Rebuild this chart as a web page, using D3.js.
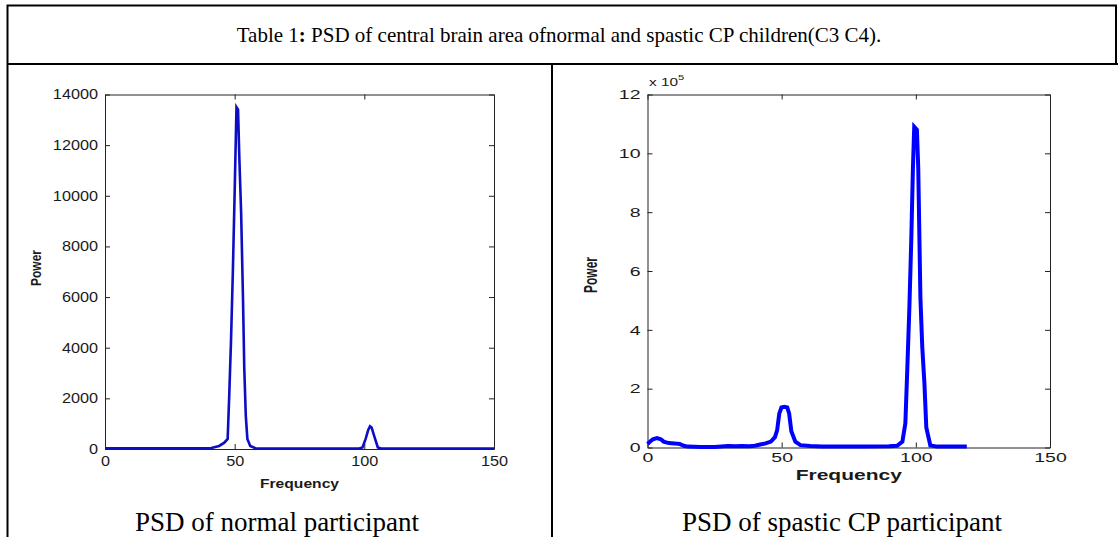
<!DOCTYPE html>
<html lang="en">
<head>
<meta charset="utf-8">
<title>PSD of central brain area</title>
<script src="https://cdn.jsdelivr.net/npm/d3@7"></script>
<style>
  body { margin: 0; background: #fff; }
  .rule { stroke: #000; stroke-width: 2; fill: none; }
  .serif { font-family: "Liberation Serif", "Times New Roman", serif; fill: #000; }
  .mat text { font-family: "Liberation Sans", Arial, sans-serif; fill: #1a1a1a; }
  .mat .domain, .mat .tick line { stroke: #222; stroke-width: 1; }
</style>
</head>
<body>
<script>
var w = 1118, h = 537;

// normal participant (power)
var normalFreq  = [0, 10, 20, 30, 38, 41, 44, 46, 47.3, 47.9, 48.6, 49.3, 49.9, 50.7, 51.3, 51.8, 52.5, 53.2, 53.7, 54.3, 54.9, 56, 58, 70, 98, 99.3, 100.5, 101.5, 102.2, 102.8, 104, 105.2, 106.5, 150];
var normalPower = [30, 25, 25, 25, 30, 40, 120, 250, 400, 2100, 4300, 7000, 9700, 13500, 13400, 11500, 9300, 6000, 3200, 1300, 400, 120, 30, 20, 20, 60, 400, 750, 900, 850, 450, 60, 20, 20];

// spastic CP participant (power, x 10^5)
var spasticFreq  = [0, 1, 2, 3.5, 5, 6, 8, 10, 12, 13.5, 15, 20, 25, 30, 33, 35, 38, 40, 42, 44, 46, 47.5, 48.3, 49.1, 49.9, 51, 52.1, 52.8, 53.6, 55.1, 57, 60.7, 65, 80, 90, 93, 95, 96.1, 96.8, 97.6, 98.3, 98.9, 99.4, 100.4, 100.9, 101.7, 102.4, 103.2, 103.9, 105.4, 108, 119];
var spasticPower = [0.12, 0.2, 0.28, 0.32, 0.28, 0.2, 0.15, 0.14, 0.12, 0.06, 0.03, 0.02, 0.02, 0.05, 0.04, 0.05, 0.04, 0.06, 0.1, 0.14, 0.2, 0.35, 0.58, 1.15, 1.36, 1.38, 1.36, 1.15, 0.55, 0.2, 0.08, 0.05, 0.03, 0.03, 0.04, 0.06, 0.2, 0.82, 2.62, 4.77, 7.05, 9.44, 10.9, 10.8, 9.5, 5.11, 3.41, 2.18, 0.68, 0.07, 0.03, 0.03];

var freqTicks = [0, 50, 100, 150];
var normalTicks = [0, 2000, 4000, 6000, 8000, 10000, 12000, 14000];
var spasticTicks = [0, 2, 4, 6, 8, 10, 12];

var svg = d3.select("body").append("svg")
  .attr("width", w)
  .attr("height", h);

// table frame
svg.append("path").attr("class", "rule")
  .attr("d", "M7.5,537 V5.5 H1116 V64");
svg.append("line").attr("class", "rule")
  .attr("x1", 7.5).attr("x2", 1118).attr("y1", 64).attr("y2", 64);
svg.append("line").attr("class", "rule")
  .attr("x1", 552).attr("x2", 552).attr("y1", 64).attr("y2", 537);

var title = svg.append("text").attr("class", "serif")
  .attr("x", 559).attr("y", 42)
  .attr("text-anchor", "middle")
  .style("font-size", "21px");
title.append("tspan").text("Table 1");
title.append("tspan").style("font-weight", "bold").text(":");
title.append("tspan").text(" PSD of central brain area ofnormal and spastic CP children(C3 C4).");

var drawPanel = function(o) {
  var x = d3.scaleLinear().domain([0, 150]).range([o.left, o.right]);
  var y = d3.scaleLinear().domain([0, o.yTicks[o.yTicks.length - 1]]).range([o.bottom, o.top]);
  var g = svg.append("g").attr("class", "mat");

  var bottom = g.append("g")
    .attr("transform", "translate(0," + o.bottom + ")")
    .call(d3.axisBottom(x).tickValues(freqTicks).tickFormat(d3.format("d"))
      .tickSizeInner(-5).tickSizeOuter(0).tickPadding(o.pad));
  g.append("g")
    .attr("transform", "translate(0," + o.top + ")")
    .call(d3.axisTop(x).tickValues(freqTicks).tickFormat("").tickSizeInner(-5).tickSizeOuter(0));
  var left = g.append("g")
    .attr("transform", "translate(" + o.left + ",0)")
    .call(d3.axisLeft(y).tickValues(o.yTicks).tickFormat(d3.format("d"))
      .tickSizeInner(-5).tickSizeOuter(0).tickPadding(7));
  g.append("g")
    .attr("transform", "translate(" + o.right + ",0)")
    .call(d3.axisRight(y).tickValues(o.yTicks).tickFormat("").tickSizeInner(-5).tickSizeOuter(0));

  // stretched MATLAB lettering
  bottom.selectAll("text").style("font-size", o.font + "px")
    .attr("transform", "scale(" + o.sx + ",1)");
  left.selectAll("text").style("font-size", o.font + "px")
    .attr("x", -7 / o.sx)
    .attr("transform", "scale(" + o.sx + ",1)");

  var line = d3.line()
    .x(function(d) { return x(d[0]); })
    .y(function(d) { return y(d[1]); });

  g.append("path")
    .datum(d3.zip(o.freq, o.power))
    .attr("fill", "none")
    .attr("stroke", o.color)
    .attr("stroke-width", o.width)
    .attr("stroke-linejoin", "miter")
    .attr("d", line);

  g.append("text")
    .attr("text-anchor", "middle")
    .attr("transform", "translate(" + ((o.left + o.right) / 2) + "," + o.freqY + ") scale(" + o.sx + ",1)")
    .style("font-size", o.labelFont + "px")
    .style("font-weight", "bold")
    .text("Frequency");

  g.append("text")
    .attr("text-anchor", "middle")
    .attr("transform", "translate(" + o.powerX + "," + o.powerY + ") scale(" + o.sx + ",1) rotate(-90)")
    .style("font-size", "12px")
    .style("font-weight", "bold")
    .text("Power");

  svg.append("text").attr("class", "serif")
    .attr("x", o.capX).attr("y", 531)
    .attr("text-anchor", "middle")
    .style("font-size", "27px")
    .text(o.caption);

  return g;
};

drawPanel({
  left: 105, right: 494, top: 94.5, bottom: 449,
  yTicks: normalTicks, freq: normalFreq, power: normalPower,
  sx: 1.16, font: 14, labelFont: 13.5, pad: 7,
  color: "#0d0dc4", width: 2.6,
  freqY: 488, powerX: 41, powerY: 268,
  capX: 277, caption: "PSD of normal participant"
});

var right = drawPanel({
  left: 647.5, right: 1050, top: 94.5, bottom: 447.5,
  yTicks: spasticTicks, freq: spasticFreq, power: spasticPower,
  sx: 1.5, font: 13, labelFont: 14, pad: 5,
  color: "#0000ff", width: 4,
  freqY: 480, powerX: 597, powerY: 275,
  capX: 842, caption: "PSD of spastic CP participant"
});

var expo = right.append("text")
  .attr("transform", "translate(649,86) scale(1.4,1)")
  .style("font-size", "11px");
expo.append("tspan").text("x 10");
expo.append("tspan").attr("dy", -6).style("font-size", "8px").text("5");
</script>
</body>
</html>
